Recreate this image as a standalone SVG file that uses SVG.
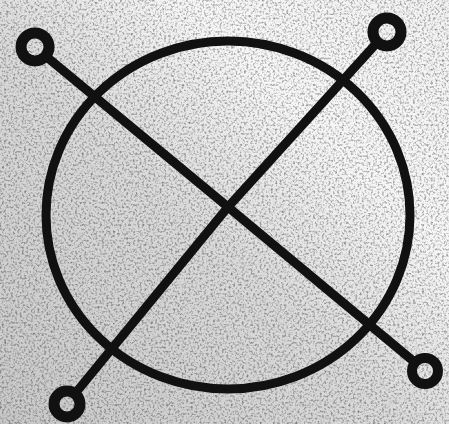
<svg xmlns="http://www.w3.org/2000/svg" width="449" height="424" viewBox="0 0 449 424">
<defs>
<linearGradient id="bg" x1="0" y1="1" x2="1" y2="0">
<stop offset="0" stop-color="#c8c8c8"/>
<stop offset="0.45" stop-color="#dadada"/>
<stop offset="0.7" stop-color="#f6f6f6"/>
<stop offset="1" stop-color="#f2f2f2"/>
</linearGradient>
<filter id="noise" x="0" y="0" width="100%" height="100%">
<feTurbulence type="fractalNoise" baseFrequency="0.45" numOctaves="2" seed="3" result="t"/>
<feColorMatrix in="t" type="matrix" values="0 0 0 0 0  0 0 0 0 0  0 0 0 0 0  0 0 0 -2.6 1.4"/>
</filter>
<style>
.ink{fill:none;stroke:#111;stroke-linecap:round;stroke-linejoin:round}
</style>
</defs>
<rect width="449" height="424" fill="url(#bg)"/>
<rect width="449" height="424" filter="url(#noise)" opacity="0.4"/>
<g id="figure">
<ellipse class="ink" cx="228" cy="215" rx="182" ry="174" stroke-width="9"/>
<g id="connectors">
<polyline class="ink" points="48,58 228,207 412,360" stroke-width="9"/>
<polyline class="ink" points="374,46 228,207 78,390" stroke-width="9"/>
</g>
<circle id="ring-tl" class="ink" cx="35" cy="47" r="14" stroke-width="11"/>
<circle id="ring-tr" class="ink" cx="387" cy="32" r="14" stroke-width="11"/>
<circle id="ring-bl" class="ink" cx="67" cy="404" r="13" stroke-width="11"/>
<circle id="ring-br" class="ink" cx="425" cy="371" r="13" stroke-width="10"/>
</g>
</svg>
